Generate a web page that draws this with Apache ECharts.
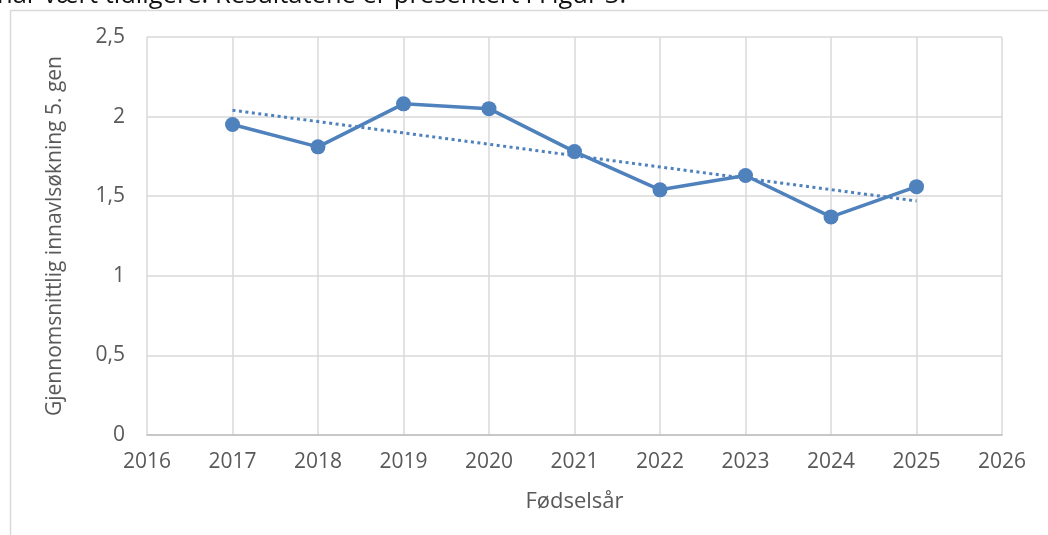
<!DOCTYPE html>
<html>
<head>
<meta charset="utf-8">
<script src="https://cdn.jsdelivr.net/npm/echarts@6/dist/echarts.min.js"></script>
<style>
  html, body { margin: 0; padding: 0; background: #fff; }
  #chart { width: 1048px; height: 535px; }
</style>
</head>
<body>
<div id="chart"></div>
<script>
// fødselsår og gjennomsnittlig innavlsøkning (lest av figuren)
const years = [2017, 2018, 2019, 2020, 2021, 2022, 2023, 2024, 2025];
const inbreeding = [1.95, 1.81, 2.08, 2.05, 1.78, 1.54, 1.63, 1.37, 1.56];
// lineær trendlinje, endepunkter
const trendYears = [2017, 2025];
const trendValues = [2.04, 1.47];

const blue = "#4f81bd";
const textGray = "#595959";
const gridGray = "#d9d9d9";
const font = "'Open Sans', 'DejaVu Sans', sans-serif";

const chart = echarts.init(document.getElementById("chart"));

chart.setOption({
  animation: false,
  backgroundColor: "#fff",
  grid: { left: 147, right: 46, top: 37, bottom: 100 },
  graphic: [
    {
      type: "text",
      left: -3,
      top: -17,
      style: {
        text: "har vært tidligere. Resultatene er presentert i Figur 3.",
        fontFamily: font,
        fontSize: 25.5,
        fill: "#111",
      },
    },
    {
      type: "polyline",
      shape: { points: [[1048, 10.5], [10.5, 10.5], [10.5, 535]] },
      style: { stroke: gridGray, lineWidth: 1.5, fill: null },
    },
  ],
  xAxis: {
    type: "value",
    min: 2016,
    max: 2026,
    interval: 1,
    name: "Fødselsår",
    nameLocation: "middle",
    nameGap: 56,
    nameTextStyle: { fontFamily: font, fontSize: 22, color: textGray },
    axisLine: { show: true, lineStyle: { color: "#bfbfbf", width: 1.5 } },
    axisTick: { show: false },
    axisLabel: {
      margin: 17,
      fontFamily: font,
      fontSize: 21,
      color: textGray,
      formatter: v => String(v),
    },
    splitLine: { show: true, lineStyle: { color: gridGray, width: 1.5 } },
  },
  yAxis: {
    type: "value",
    min: 0,
    max: 2.5,
    interval: 0.5,
    name: "Gjennomsnittlig innavlsøkning 5. gen",
    nameLocation: "middle",
    nameGap: 81,
    nameTextStyle: { fontFamily: font, fontSize: 21, color: textGray },
    axisLine: { show: false },
    axisTick: { show: false },
    axisLabel: {
      margin: 22,
      fontFamily: font,
      fontSize: 21,
      color: textGray,
      formatter: v => String(v).replace(".", ","),
    },
    splitLine: { show: true, lineStyle: { color: gridGray, width: 1.5 } },
  },
  series: [
    {
      type: "line",
      data: trendYears.map((y, i) => [y, trendValues[i]]),
      symbol: "none",
      lineStyle: { color: blue, width: 3, type: [3, 3.5] },
      z: 2,
    },
    {
      type: "line",
      data: years.map((y, i) => [y, inbreeding[i]]),
      symbol: "circle",
      symbolSize: 15,
      itemStyle: { color: blue },
      lineStyle: { color: blue, width: 3.5 },
      z: 3,
    },
  ],
});
</script>
</body>
</html>
